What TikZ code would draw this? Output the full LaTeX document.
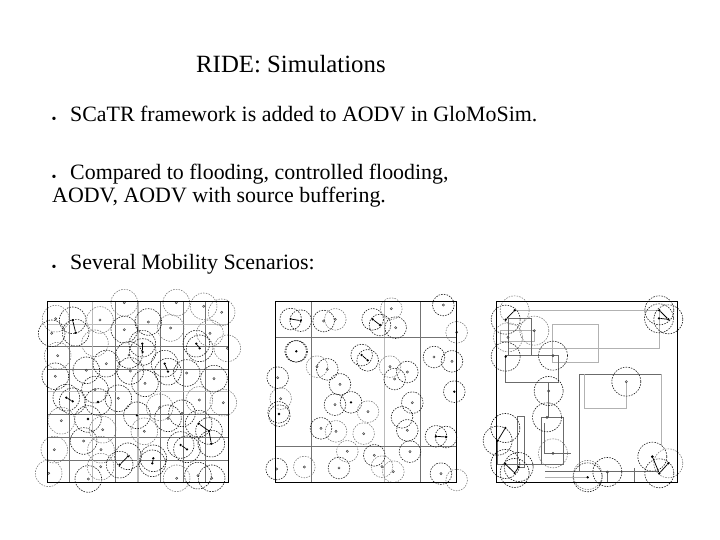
\documentclass[tikz,border=0pt]{standalone}
\usepackage{fontspec}
\setmainfont{Liberation Serif}
\usetikzlibrary{positioning}

\begin{document}
\begin{tikzpicture}[
    x=1pt, y=-1pt,
    heading/.style={anchor=base west, inner sep=0pt, font=\fontsize{24.8}{28}\selectfont},
    itemtext/.style={anchor=base west, inner sep=0pt, font=\fontsize{21.9}{24}\selectfont},
    itemdot/.style={anchor=base, inner sep=0pt, font=\fontsize{14}{16}\selectfont},
    panel/.style={shift={#1}, x=0.3333pt, y=-0.3333pt},
    frame/.style={draw=black, line width=1.1pt},
    gridline/.style={draw=black!55, line width=0.75pt},
    gridpale/.style={draw=black!27, line width=1.3pt},
    road/.style={draw=black!58, line width=0.75pt},
    roadpale/.style={draw=black!30, line width=0.75pt},
    rangedark/.style={draw=black!90, line width=0.6pt, dash pattern=on 1.5pt off 1.2pt},
    rangepale/.style={draw=black!55, line width=0.55pt, dash pattern=on 1.5pt off 1.2pt},
    host/.style={circle, draw=black!75, line width=0.5pt, inner sep=0pt, minimum size=2.2pt},
    mover/.style={circle, fill=black, inner sep=0pt, minimum size=2.6pt},
    link/.style={draw=black, line width=0.75pt}
]
\useasboundingbox (0,0) rectangle (720,540);

% title and bullets
\node[heading] (title) at (196,72.7) {RIDE: Simulations};
\node[itemdot] (dotone) at (54,123.5) {•};
\node[itemtext] (itemone) at (70,121.7) {SCaTR framework is added to AODV in GloMoSim.};
\node[itemdot] (dottwo) at (54,182) {•};
\node[itemtext] (itemtwo) at (70,180) {Compared to flooding, controlled flooding,};
\node[itemtext] (itemtwob) at (52,202.3) {AODV, AODV with source buffering.};
\node[itemdot] (dotthree) at (54,271) {•};
\node[itemtext] (itemthree) at (70,269) {Several Mobility Scenarios:};

% grid scenario
\begin{scope}[panel={(35,285)}]
\foreach \x in {103,241,377,446,512} \draw[gridline] (\x,50) -- (\x,592);
\foreach \y in {185,252,388,457,526} \draw[gridline] (38,\y) -- (581,\y);
\foreach \x in {172,309} \draw[gridpale] (\x,50) -- (\x,592);
\foreach \y in {118,320} \draw[gridpale] (38,\y) -- (581,\y);
\foreach \x/\y in {113/106,122/143,50/145,268/134,340/111,484/176,494/190,322/176,323/201,
    282/210,154/256,61/274,286/258,330/295,389/236,399/260,94/338,113/349,189/351,
    180/314,250/340,306/391,399/400,441/385,159/402,491/416,522/438,529/476,437/480,
    456/493,146/468,279/514,254/539,355/520,352/535,160/582,489/572,530/580,537/281,
    214/236,455/264}
    \draw[rangedark] (\x,\y) circle [radius=40];
\foreach \x/\y in {62/101,195/105,268/53,407/129,424/53,506/64,560/82,525/145,577/190,
    68/212,180/175,374/367,493/345,565/353,79/407,203/434,328/439,198/494,58/494,
    197/545,41/565,425/580}
    \draw[rangepale] (\x,\y) circle [radius=40];
\foreach \x/\y in {62/101,50/145,195/105,268/53,340/111,268/134,407/129,424/53,506/64,
    560/82,525/145,577/190,282/210,68/212,214/236,154/256,61/274,286/258,330/295,
    455/264,537/281,180/314,250/340,374/367,493/345,565/353,399/400,441/385,79/407,
    203/434,328/439,146/468,198/494,58/494,197/545,160/582,41/565,425/580,489/572,530/580}
    \node[host] at (\x,\y) {};
\foreach \name/\x/\y in {a/113/106,b/122/143,c/322/176,d/323/201,e/484/176,f/494/190,
    g/389/236,h/399/260,i/94/338,j/113/349,k/279/514,l/254/539,m/355/520,n/352/535,
    o/491/416,p/522/438,q/529/476,r/437/480,s/456/493,t/306/391,u/189/351,v/159/402}
    \node[mover] (\name) at (\x,\y) {};
\draw[link] (a) -- (b);
\draw[link] (c) -- (d);
\draw[link] (e) -- (f);
\draw[link] (g) -- (h);
\draw[link] (i) -- (j);
\draw[link] (k) -- (l);
\draw[link] (m) -- (n);
\draw[link] (o) -- (p) -- (q);
\draw[link] (r) -- (s);
\draw[frame] (38,50) rectangle (581,592);
\end{scope}

% street scenario
\begin{scope}[panel={(265,285)}]
\foreach \x in {139,467} \draw[gridline] (\x,50) -- (\x,592);
\draw[gridpale, line width=0.8pt] (359,50) -- (359,592);
\foreach \y in {157,484} \draw[gridline] (31,\y) -- (575,\y);
\foreach \x/\y in {77/102,107/107,176/108,323/103,345/120,392/128,535/60,92/199,95/199,
    290/210,308/226,187/253,427/261,389/282,507/216,561/229,225/298,210/359,258/352,
    442/353,411/397,427/436,168/430,513/454,543/456,328/511,435/500,222/549,35/552,
    528/566,41/382,43/392,568/320,38/278}
    \draw[rangedark] (\x,\y) circle [radius=32.5];
\foreach \x/\y in {211/103,379/71,575/142,156/245,375/245,47/341,309/380,213/439,296/446,
    247/499,351/545,385/560,118/546,575/585}
    \draw[rangepale] (\x,\y) circle [radius=32.5];
\foreach \x/\y in {176/108,211/103,379/71,392/128,535/60,575/142,156/245,187/253,375/245,
    427/261,389/282,507/216,561/229,38/278,225/298,47/341,210/359,309/380,442/353,
    427/436,168/430,213/439,296/446,247/499,328/511,351/545,385/560,435/500,222/549,
    118/546,35/552,528/566}
    \node[host] at (\x,\y) {};
\foreach \name/\x/\y in {a/77/102,b/107/107,c/323/103,d/345/120,e/290/210,f/308/226,
    g/513/454,h/543/456,i/94/199,j/258/352,k/42/387,l/568/320}
    \node[mover] (\name) at (\x,\y) {};
\draw[link] (a) -- (b);
\draw[link] (c) -- (d);
\draw[link] (e) -- (f);
\draw[link] (g) -- (h);
\draw[frame] (31,50) rectangle (575,592);
\end{scope}

% obstacle scenario
\begin{scope}[panel={(485,285)}]
\draw[roadpale] (89,76) -- (523,76) -- (523,190) -- (70,190);
\draw[roadpale] (45,137) rectangle (148,169);
\draw[roadpale] (202,119) rectangle (340,232);
\draw[road] (69,101) rectangle (139,212);
\draw[road] (62,212) rectangle (221,292);
\draw[road] (528,268) -- (283,268) -- (283,558);
\draw[roadpale] (528,268) -- (528,480);
\draw[roadpale] (298,268) -- (298,371) -- (424,371) -- (424,290);
\draw[road] (191,292) -- (191,397);
\draw[road] (169,397) rectangle (235,538);
\draw[road] (179,415) -- (179,505) -- (257,505);
\draw[road] (97,394) rectangle (119,546);
\draw[road] (38,467) -- (38,537) -- (221,537);
\draw[road] (180,560) -- (523,560);
\draw[roadpale] (180,577) -- (308,577);
\draw[road] (367,561) -- (367,592);
\draw[road] (448,549) -- (448,592);
\foreach \x/\y in {62/104,62/215,204/212,191/318,424/290,186/397,61/429,38/467,
    61/537,101/546,89/564,308/577,367/561,502/515,523/565,523/76,550/103,522/100}
    \draw[rangedark] (\x,\y) circle [radius=43.5];
\foreach \x/\y in {89/76,69/157,148/137,204/505,550/535,308/570}
    \draw[rangepale] (\x,\y) circle [radius=43.5];
\foreach \x/\y in {69/157,148/137,204/212,191/318,424/290,186/397,204/505,367/561,502/515}
    \node[host] at (\x,\y) {};
\foreach \name/\x/\y in {a/89/76,b/62/104,c/62/215,d/523/76,e/550/103,f/522/100,g/61/429,
    h/38/467,i/61/537,j/101/546,k/89/564,l/308/577,m/550/535,n/523/565,o/502/515}
    \node[mover] (\name) at (\x,\y) {};
\draw[link] (a) -- (b);
\draw[link] (d) -- (e) -- (f);
\draw[link] (g) -- (h);
\draw[link] (i) -- (k) -- (j);
\draw[link] (m) -- (n);
\draw[link] (o) -- (n);
\draw[frame] (34,50) rectangle (578,592);
\end{scope}

\end{tikzpicture}
\end{document}
